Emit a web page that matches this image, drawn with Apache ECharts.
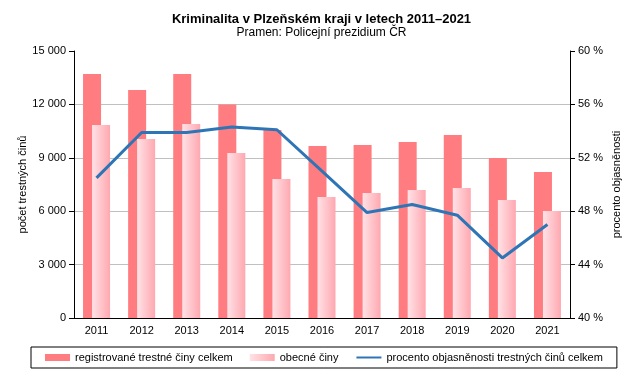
<!DOCTYPE html>
<html><head><meta charset="utf-8">
<script src="https://cdn.jsdelivr.net/npm/echarts@6/dist/echarts.min.js"></script>
<style>html,body{margin:0;padding:0;background:#fff}#c{width:643px;height:378px}</style>
</head><body><div id="c"></div>
<script>
const years = ['2011','2012','2013','2014','2015','2016','2017','2018','2019','2020','2021'];
const registrovane = [13710, 12810, 13710, 11990, 10560, 9660, 9720, 9890, 10280, 8990, 8200];
const obecne = [10840, 10060, 10900, 9270, 7810, 6800, 7020, 7190, 7300, 6630, 6010];
const procento = [50.5, 53.9, 53.9, 54.3, 54.1, 51.0, 47.9, 48.5, 47.7, 44.5, 47.0];
const seriesNames = ['registrované trestné činy celkem', 'obecné činy', 'procento objasněnosti trestných činů celkem'];

const font = 'Liberation Sans, Arial, sans-serif';
const chart = echarts.init(document.getElementById('c'), null, {renderer: 'canvas'});
chart.setOption({
  animation: false,
  textStyle: {fontFamily: font},
  title: {
    text: 'Kriminalita v Plzeňském kraji v letech 2011–2021',
    subtext: 'Pramen: Policejní prezidium ČR',
    left: 'center', top: 8, itemGap: 1,
    textStyle: {fontFamily: font, fontSize: 13, fontWeight: 'bold', color: '#000'},
    subtextStyle: {fontFamily: font, fontSize: 12, color: '#000'}
  },
  legend: {
    left: 31, top: 347,
    padding: [5, 14],
    borderColor: '#000', borderWidth: 1,
    itemWidth: 25, itemHeight: 7, itemGap: 17,
    textStyle: {fontFamily: font, fontSize: 11, color: '#000'},
    data: [
      {name: seriesNames[0], icon: 'rect'},
      {name: seriesNames[1], icon: 'rect'},
      {name: seriesNames[2], itemStyle: {opacity: 0}}
    ]
  },
  grid: {left: 74, right: 73, top: 51, bottom: 60},
  xAxis: {
    type: 'category', data: years,
    axisLine: {lineStyle: {color: '#000', width: 1}},
    axisTick: {length: 4, lineStyle: {color: '#000'}},
    axisLabel: {color: '#000', fontSize: 11, margin: 7, fontFamily: font}
  },
  yAxis: [{
    type: 'value', min: 0, max: 15000, interval: 3000,
    name: 'počet trestných činů', nameLocation: 'middle', nameGap: 46, nameRotate: 90,
    nameMoveOverlap: false,
    nameTextStyle: {color: '#000', fontSize: 11, fontFamily: font},
    axisLine: {show: true, lineStyle: {color: '#000'}},
    axisTick: {show: true, length: 5, lineStyle: {color: '#000'}},
    axisLabel: {color: '#000', fontSize: 11, margin: 8, fontFamily: font,
      formatter: v => v >= 1000 ? Math.floor(v/1000) + ' ' + String(v%1000).padStart(3,'0') : String(v)},
    splitLine: {show: true, showMaxLine: false, lineStyle: {color: '#c0c0c0', width: 1}}
  }, {
    type: 'value', min: 40, max: 60, interval: 4, position: 'right',
    name: 'procento objasněnosti', nameLocation: 'middle', nameGap: 41, nameRotate: 90,
    nameMoveOverlap: false,
    nameTextStyle: {color: '#000', fontSize: 11, fontFamily: font},
    axisLine: {show: true, lineStyle: {color: '#000'}},
    axisTick: {show: true, length: 5, lineStyle: {color: '#000'}},
    axisLabel: {color: '#000', fontSize: 11, margin: 8, fontFamily: font, formatter: v => v + ' %'},
    splitLine: {show: false}
  }],
  series: [{
    name: seriesNames[0], type: 'bar', data: registrovane,
    barWidth: 18, barGap: '-50%',
    itemStyle: {color: '#ff7c80'}
  }, {
    name: seriesNames[1], type: 'bar', data: obecne,
    barWidth: 18,
    itemStyle: {color: new echarts.graphic.LinearGradient(0, 0, 1, 0, [
      {offset: 0, color: '#ffe2e6'}, {offset: 1, color: '#ffa8b0'}])}
  }, {
    name: seriesNames[2], type: 'line', yAxisIndex: 1, data: procento,
    symbol: 'none', lineStyle: {color: '#2e75b6', width: 3}, itemStyle: {color: '#2e75b6'}
  }]
});
</script></body></html>
